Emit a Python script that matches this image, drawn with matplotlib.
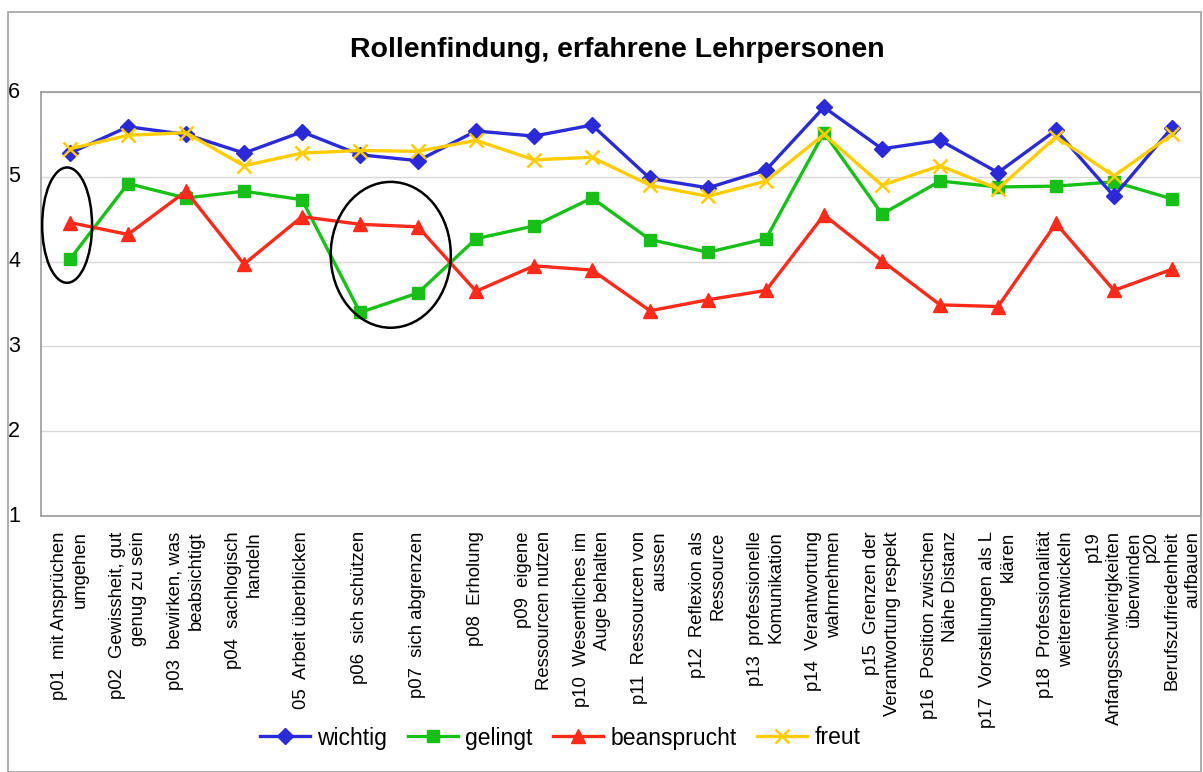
import matplotlib
matplotlib.use("Agg")
import matplotlib.pyplot as plt
from matplotlib.patches import Ellipse, Rectangle

plt.rcParams["font.family"] = ["Liberation Sans", "DejaVu Sans"]

labels = [
    "p01  mit Ansprüchen\numgehen",
    "p02  Gewissheit, gut\ngenug zu sein",
    "p03  bewirken, was\nbeabsichtigt",
    "p04  sachlogisch\nhandeln",
    "05  Arbeit überblicken",
    "p06  sich schützen",
    "p07  sich abgrenzen",
    "p08  Erholung",
    "p09  eigene\nRessourcen nutzen",
    "p10  Wesentliches im\nAuge behalten",
    "p11  Ressourcen von\naussen",
    "p12  Reflexion als\nRessource",
    "p13  professionelle\nKomunikation",
    "p14  Verantwortung\nwahrnehmen",
    "p15  Grenzen der\nVerantwortung respekt",
    "p16  Position zwischen\nNähe Distanz",
    "p17  Vorstellungen als L\nklären",
    "p18  Professionalität\nweiterentwickeln",
    "p19\nAnfangsschwierigkeiten\nüberwinden",
    "p20\nBerufszufriedenheit\naufbauen",
]

wichtig = [5.28, 5.59, 5.50, 5.28, 5.53, 5.26, 5.19, 5.54, 5.48, 5.61,
           4.98, 4.87, 5.08, 5.82, 5.33, 5.43, 5.05, 5.55, 4.77, 5.58]
gelingt = [4.03, 4.92, 4.75, 4.83, 4.73, 3.40, 3.63, 4.27, 4.42, 4.75,
           4.26, 4.11, 4.27, 5.52, 4.56, 4.95, 4.88, 4.89, 4.94, 4.74]
beansprucht = [4.46, 4.32, 4.83, 3.97, 4.53, 4.44, 4.41, 3.65, 3.95, 3.90,
               3.42, 3.55, 3.66, 4.55, 4.01, 3.49, 3.47, 4.45, 3.66, 3.91]
freut = [5.33, 5.49, 5.52, 5.13, 5.28, 5.31, 5.30, 5.43, 5.20, 5.23,
         4.90, 4.77, 4.95, 5.50, 4.90, 5.13, 4.86, 5.47, 5.01, 5.50]

x = list(range(len(labels)))

fig = plt.figure(figsize=(12.03, 7.72), dpi=100)
ax = fig.add_axes([41 / 1203, 1 - 516 / 772, 1160 / 1203, 424 / 772])

# outer chart border
fig.patches.append(Rectangle((8 / 1203, 0.0), 1193 / 1203, 1 - 12 / 772,
                             transform=fig.transFigure, fill=False,
                             edgecolor="#a0a0a0", linewidth=1.2))

lw = 2.4
ax.plot(x, wichtig, color="#2a2ad8", lw=lw, marker="D", markersize=8, label="wichtig", zorder=4)
ax.plot(x, gelingt, color="#16c016", lw=lw, marker="s", markersize=9, label="gelingt", zorder=3)
ax.plot(x, beansprucht, color="#ff2a1a", lw=lw, marker="^", markersize=10, label="beansprucht", zorder=3)
ax.plot(x, freut, color="#ffcc00", lw=lw, marker="x", markersize=10, mew=1.8, label="freut", zorder=5)

# highlight ellipses
ax.add_patch(Ellipse((-0.05, 4.43), 0.86, 1.36, fill=False, edgecolor="black", lw=1.8, zorder=6))
ax.add_patch(Ellipse((5.53, 4.08), 2.07, 1.72, fill=False, edgecolor="black", lw=1.8, zorder=6))

ax.set_xlim(-0.5, len(labels) - 0.5)
ax.set_ylim(1, 6)
ax.set_yticks([1, 2, 3, 4, 5, 6])
ax.tick_params(axis="y", length=0, labelsize=15.5, pad=15)
ax.set_yticklabels([str(v) for v in range(1, 7)], va="center")
ax.set_xticks(x)
ax.set_xticklabels(labels, rotation=90, fontsize=13.3, ha="center", va="top",
                   multialignment="right", linespacing=1.25)
ax.tick_params(axis="x", length=0, pad=11)
ax.grid(axis="y", color="#d8d8d8", lw=1)
ax.set_axisbelow(True)
for s in ax.spines.values():
    s.set_color("#999999")
    s.set_linewidth(1.2)

fig.text(617 / 1203, 1 - 50 / 772, "Rollenfindung, erfahrene Lehrpersonen",
         ha="center", va="center", fontsize=20.5, fontweight="bold")

fig.legend(loc="center", bbox_to_anchor=(560 / 1203, 1 - 738 / 772), ncol=4,
           frameon=False, fontsize=16.5, handlelength=2.2, handletextpad=0.3,
           columnspacing=0.9)

fig.savefig("out.png", dpi=100)
